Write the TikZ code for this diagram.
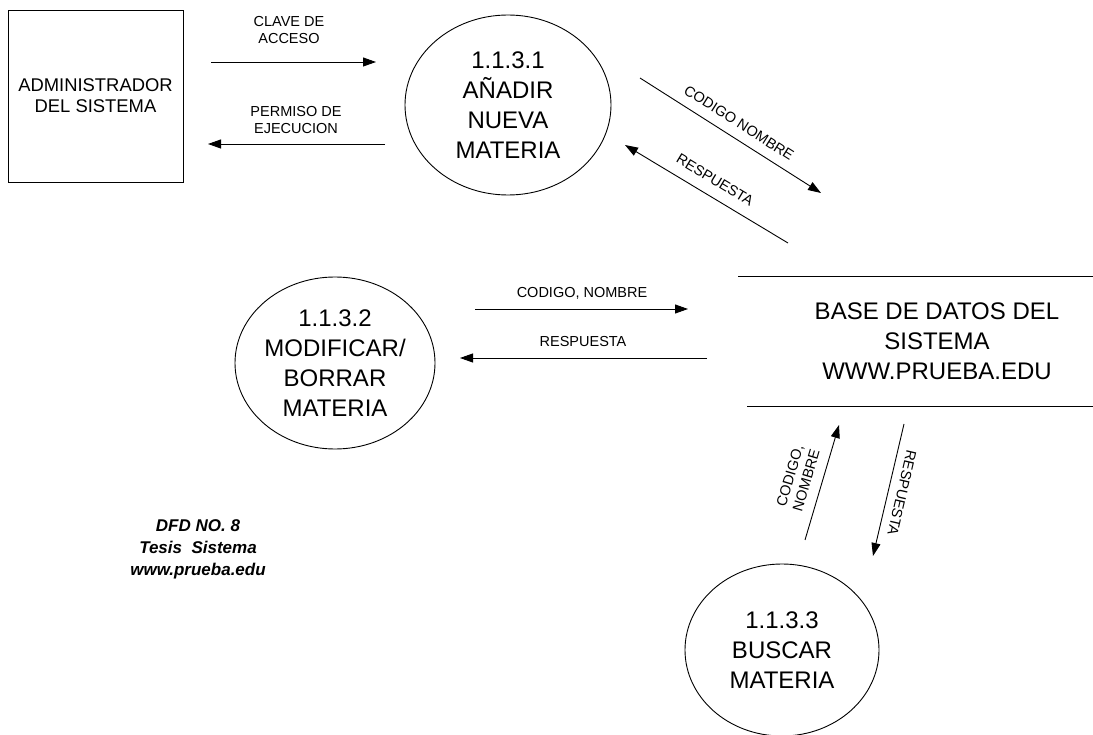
\documentclass[tikz,border=0pt]{standalone}
\usepackage{fontspec}
\setmainfont{Liberation Sans}
\usetikzlibrary{arrows.meta,shapes.geometric}

\begin{document}
\begin{tikzpicture}[x=1pt,y=-1pt, line width=0.9pt,
  flow/.style={-{Triangle[length=13pt,width=9pt]}},
  small/.style={font=\fontsize{14.5}{17}\selectfont, align=center, inner sep=0pt},
  big/.style={font=\fontsize{24}{30}\selectfont, align=center, inner sep=0pt},
  proc/.style={draw, ellipse, big}]
\useasboundingbox (0,0) rectangle (1093,735);

% external entity
\node[draw, minimum width=175pt, minimum height=172pt, inner sep=0pt,
      font=\fontsize{18.4}{21}\selectfont, align=center] (adm) at (95.5,96)
      {ADMINISTRADOR\\DEL SISTEMA};

% processes
\node[proc, minimum width=206pt, minimum height=180pt] (p1) at (508,105)
      {1.1.3.1\\AÑADIR\\NUEVA\\MATERIA};
\node[proc, minimum width=200pt, minimum height=172pt] (p2) at (335,363)
      {1.1.3.2\\MODIFICAR/\\BORRAR\\MATERIA};
\node[proc, minimum width=194pt, minimum height=172pt] (p3) at (782,650)
      {1.1.3.3\\BUSCAR\\MATERIA};

% data store
\node[big] (db) at (937,341) {BASE DE DATOS DEL\\SISTEMA\\WWW.PRUEBA.EDU};
\coordinate (dbt1) at (738,276); \coordinate (dbt2) at (1093,276);
\coordinate (dbb1) at (747,406); \coordinate (dbb2) at (1093,406);
\draw (dbt1) -- (dbt2);
\draw (dbb1) -- (dbb2);

% flows: administrator <-> 1.1.3.1
\coordinate (f1a) at (211,62);  \coordinate (f1b) at (376,62);
\draw[flow] (f1a) -- (f1b);
\node[small] (l1) at (289,30) {CLAVE DE\\ACCESO};

\coordinate (f2a) at (385,144); \coordinate (f2b) at (208,144);
\draw[flow] (f2a) -- (f2b);
\node[small] (l2) at (296,120) {PERMISO DE\\EJECUCION};

% flows: 1.1.3.1 <-> data store
\coordinate (f3a) at (640,78);  \coordinate (f3b) at (821,193);
\draw[flow] (f3a) -- (f3b);
\node[small, rotate=-32.4] (l3) at (739,123) {CODIGO NOMBRE};

\coordinate (f4a) at (788,243); \coordinate (f4b) at (625,145);
\draw[flow] (f4a) -- (f4b);
\node[small, rotate=-31] (l4) at (715,180) {RESPUESTA};

% flows: 1.1.3.2 <-> data store
\coordinate (f5a) at (475,309); \coordinate (f5b) at (688,309);
\draw[flow] (f5a) -- (f5b);
\node[small] (l5) at (582,293) {CODIGO, NOMBRE};

\coordinate (f6a) at (707,358); \coordinate (f6b) at (460,358);
\draw[flow] (f6a) -- (f6b);
\node[small] (l6) at (583,342) {RESPUESTA};

% flows: 1.1.3.3 <-> data store
\coordinate (f7a) at (805,540); \coordinate (f7b) at (839,425);
\draw[flow] (f7a) -- (f7b);
\node[small, rotate=73.5] (l7) at (798,478) {CODIGO,\\NOMBRE};

\coordinate (f8a) at (904,424); \coordinate (f8b) at (873,556);
\draw[flow] (f8a) -- (f8b);
\node[small, rotate=-103] (l8) at (902,493) {RESPUESTA};

% caption
\node[font=\fontsize{17}{22}\selectfont\bfseries\itshape, align=center, inner sep=0pt]
      (cap) at (198,549) {DFD NO. 8\\Tesis\ \ Sistema\\www.prueba.edu};
\end{tikzpicture}
\end{document}
